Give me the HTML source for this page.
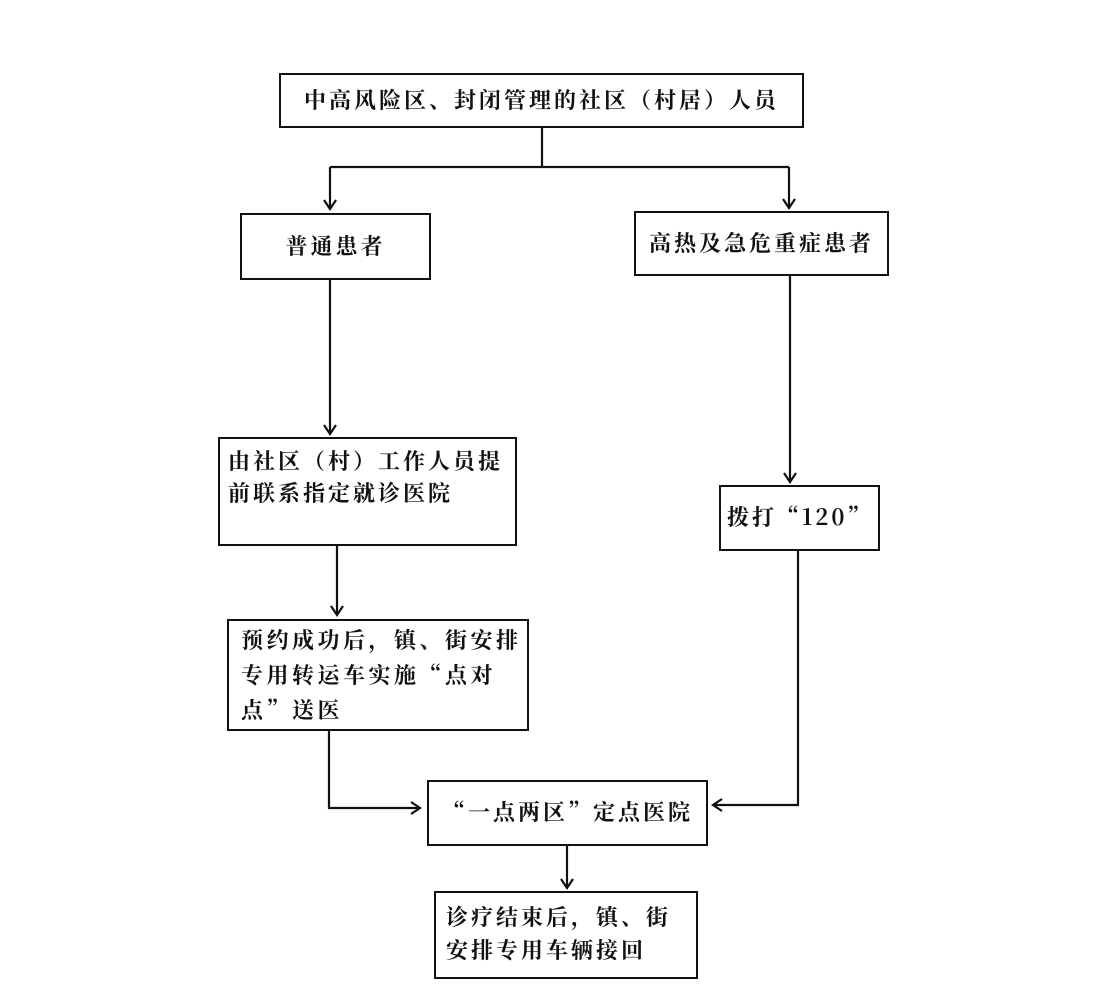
<!DOCTYPE html>
<html><head><meta charset="utf-8"><style>
body{margin:0;background:#fff;width:1107px;height:992px;position:relative;overflow:hidden;font-family:"Noto Serif CJK SC","Liberation Serif",serif;font-weight:bold;color:#111}
.b{position:absolute;border:2.5px solid #111;box-sizing:border-box;font-size:22px;letter-spacing:3px;line-height:32px;white-space:nowrap}
svg{position:absolute;left:0;top:0}
</style></head><body>
<svg width="1107" height="992" fill="none" stroke="#111" stroke-width="2.2">
<defs><marker id="a" markerWidth="14" markerHeight="14" refX="11" refY="7" orient="auto" markerUnits="userSpaceOnUse"><path d="M2,1 L11,7 L2,13" stroke="#111" stroke-width="2.2" fill="none"/></marker></defs>
<path d="M542,127V167M330,167H789"/>
<path d="M330,167V209" marker-end="url(#a)"/>
<path d="M789,167V208" marker-end="url(#a)"/>
<path d="M330,279V434" marker-end="url(#a)"/>
<path d="M790,275V482" marker-end="url(#a)"/>
<path d="M337,545V615" marker-end="url(#a)"/>
<path d="M329,730V808H420" marker-end="url(#a)"/>
<path d="M798,550V805H713" marker-end="url(#a)"/>
<path d="M567,845V888" marker-end="url(#a)"/>
</svg>
<div class="b" style="left:279px;top:73px;width:525px;height:55px;text-align:center;line-height:50px">中高风险区、封闭管理的社区（村居）人员</div>
<div class="b" style="left:240px;top:213px;width:191px;height:67px;text-align:center;line-height:62px">普通患者</div>
<div class="b" style="left:634px;top:211px;width:255px;height:65px;text-align:center;line-height:60px">高热及急危重症患者</div>
<div class="b" style="left:218px;top:437px;width:299px;height:109px;padding:6px 0 0 8px">由社区（村）工作人员提<br>前联系指定就诊医院</div>
<div class="b" style="left:719px;top:485px;width:161px;height:66px;line-height:60px;padding-left:6px">拨打“120”</div>
<div class="b" style="left:227px;top:619px;width:302px;height:112px;padding:1px 0 0 12px;line-height:35px;letter-spacing:3.5px">预约成功后，镇、街安排<br>专用转运车实施“点对<br>点”送医</div>
<div class="b" style="left:427px;top:780px;width:281px;height:66px;line-height:60px;padding-left:14px">“一点两区”定点医院</div>
<div class="b" style="left:434px;top:891px;width:264px;height:88px;padding:7px 0 0 10px;line-height:33px">诊疗结束后，镇、街<br>安排专用车辆接回</div>
</body></html>
